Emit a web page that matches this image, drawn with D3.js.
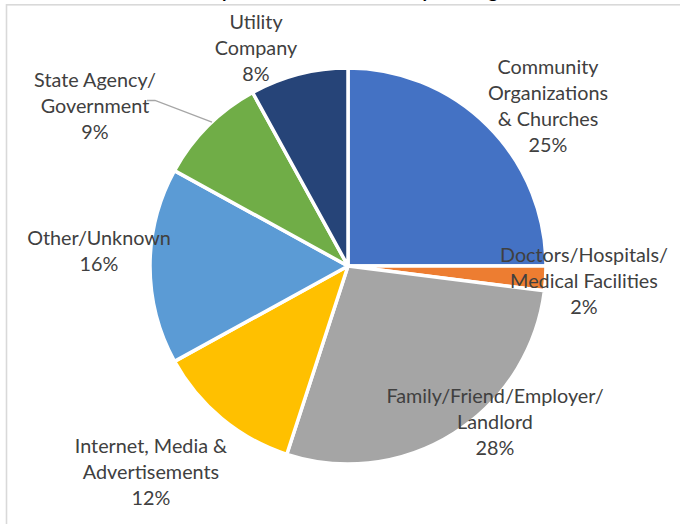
<!DOCTYPE html>
<html>
<head>
<meta charset="utf-8">
<script src="https://cdn.jsdelivr.net/npm/d3@7/dist/d3.min.js"></script>
<style>
  html, body { margin: 0; padding: 0; background: #ffffff; }
  svg { display: block; }
</style>
</head>
<body>
<svg id="chart" width="680" height="524"></svg>
<script>
// Referral sources (share of clients, %)
const categories = [
  "Community Organizations & Churches",
  "Doctors/Hospitals/Medical Facilities",
  "Family/Friend/Employer/Landlord",
  "Internet, Media & Advertisements",
  "Other/Unknown",
  "State Agency/Government",
  "Utility Company"
];
const values = [25, 2, 28, 12, 16, 9, 8];
const colors = ["#4472C4", "#ED7D31", "#A5A5A5", "#FFC000", "#5B9BD5", "#70AD47", "#264478"];

// Text lines of each slice's data label (the percentage line is appended from values)
const labelLines = [
  ["Community", "Organizations", "& Churches"],
  ["Doctors/Hospitals/", "Medical Facilities"],
  ["Family/Friend/Employer/", "Landlord"],
  ["Internet, Media &", "Advertisements"],
  ["Other/Unknown"],
  ["State Agency/", "Government"],
  ["Utility", "Company"]
];

// Label placement: centre x and first-line centre y for each label block
const labelAnchors = [
  [548, 67], [584, 255], [495, 396], [151, 446], [99, 238], [95, 80], [256, 22]
];

const svg = d3.select("#chart");
const W = 680, H = 524;
const cx = 348, cy = 266, R = 198;
const lineGap = 26;
const labelFont = "Lato, 'Open Sans', sans-serif";

// Chart area frame
svg.append("rect")
  .attr("x", 6.5).attr("y", 4.8)
  .attr("width", W + 10).attr("height", H + 10)
  .attr("fill", "#ffffff")
  .attr("stroke", "#d9d9d9")
  .attr("stroke-width", 1.6);

// Chart title (sits above the plotted area)
svg.append("text")
  .attr("x", 306).attr("y", -2)
  .attr("text-anchor", "middle")
  .attr("font-family", labelFont)
  .attr("font-weight", "bold")
  .attr("font-size", 19)
  .attr("fill", "#000000")
  .text("Households by Referral Source: Survey Findings");

const pie = d3.pie().sort(null).value(d => d)
  .startAngle(0).endAngle(2 * Math.PI);
const arc = d3.arc().innerRadius(0).outerRadius(R);

const g = svg.append("g").attr("transform", `translate(${cx},${cy})`);

g.selectAll("path.slice")
  .data(pie(values))
  .join("path")
  .attr("class", "slice")
  .attr("d", arc)
  .attr("fill", (d, i) => colors[i])
  .attr("stroke", "#ffffff")
  .attr("stroke-width", 3.5)
  .attr("stroke-linejoin", "round");

// Leader line for the State Agency/Government label
const stateIdx = 5;
const stateArc = pie(values)[stateIdx];
const leaderAngle = stateArc.startAngle + (stateArc.endAngle - stateArc.startAngle) * 0.55;
const lx = cx + R * Math.sin(leaderAngle);
const ly = cy - R * Math.cos(leaderAngle);
svg.append("path")
  .attr("d", d3.line()([[147, 100.5], [155, 100.5], [lx, ly]]))
  .attr("fill", "none")
  .attr("stroke", "#a6a6a6")
  .attr("stroke-width", 1.3);

// Data labels
const fmt = d3.format(".0f");
const labels = svg.append("g")
  .attr("font-family", labelFont)
  .attr("font-size", 19.8)
  .attr("fill", "#404040")
  .attr("text-anchor", "middle");

categories.forEach((c, i) => {
  const lines = labelLines[i].concat([fmt(values[i]) + "%"]);
  const [ax, ay] = labelAnchors[i];
  const t = labels.append("text");
  lines.forEach((ln, k) => {
    t.append("tspan")
      .attr("x", ax)
      .attr("y", ay + k * lineGap)
      .attr("dy", "0.35em")
      .text(ln);
  });
});
</script>
</body>
</html>
